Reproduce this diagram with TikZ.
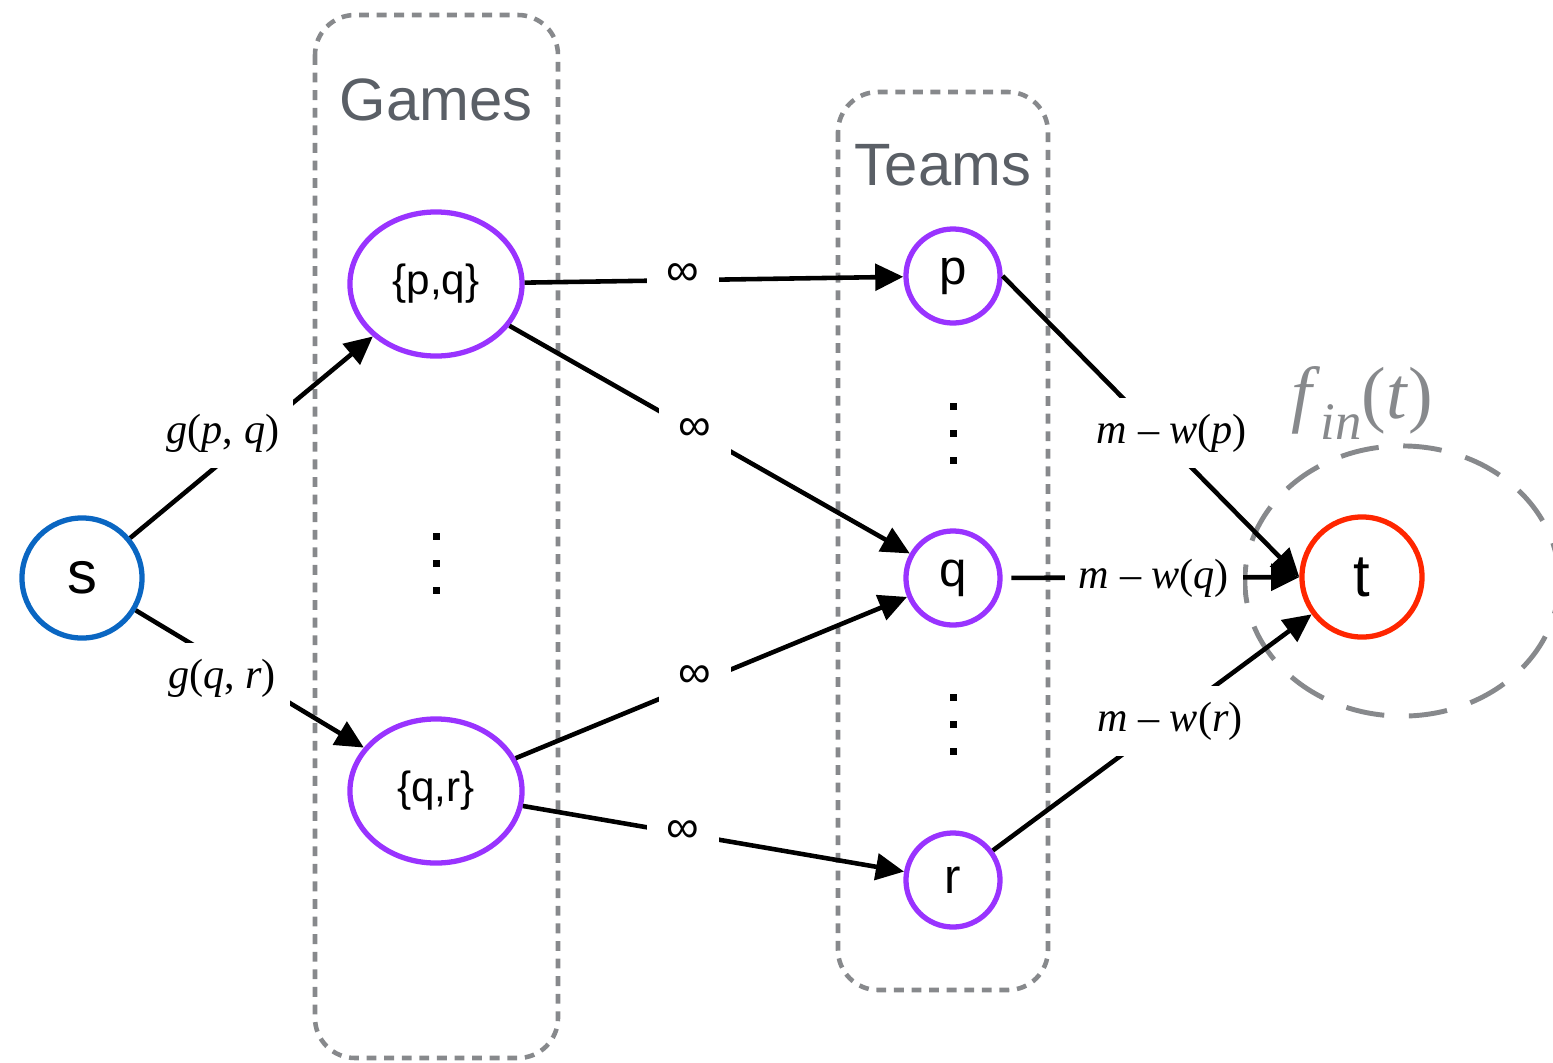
\documentclass[tikz,border=0pt]{standalone}
\usepackage{fontspec}
\setmainfont{Liberation Sans}
\newfontfamily\tms{Liberation Serif}
\usetikzlibrary{shapes.geometric}
\usetikzlibrary{arrows.meta}

\definecolor{sblue}{RGB}{10,102,194}
\definecolor{purp}{RGB}{153,51,255}
\definecolor{tred}{RGB}{255,38,0}
\definecolor{boxgray}{RGB}{135,137,140}
\definecolor{txtgray}{RGB}{90,95,102}

\newcommand{\vi}[1]{\textit{#1}}

\begin{document}
\begin{tikzpicture}[x=0.01cm,y=-0.01cm]
   \tikzset{
     vtx/.style={circle,draw,line width=1.5pt,inner sep=0pt},
     game/.style={ellipse,draw=purp,line width=1.5pt,inner sep=0pt,
       minimum width=1.72cm,minimum height=1.44cm,font=\fontsize{12}{14}\selectfont},
     team/.style={vtx,draw=purp,minimum size=0.94cm,font=\fontsize{14}{16}\selectfont},
     box/.style={draw=boxgray,line width=1.3pt,dash pattern=on 2.8pt off 2.2pt,
       rounded corners=0.4cm},
     boxtitle/.style={text=txtgray,font=\fontsize{17}{20}\selectfont},
     EdgeStyle/.style={line width=1.3pt,-{Triangle[length=8pt,width=7.5pt]}},
     wt/.style={fill=white,inner xsep=4pt,inner ysep=4.5pt,font=\tms\fontsize{12}{14}\selectfont},
     inf/.style={fill=white,inner xsep=5.5pt,inner ysep=4pt,font=\fontsize{13}{15}\selectfont},
   }
   \useasboundingbox (0,0) rectangle (1553,1063);
   % groups
   \draw[box] (315,15) rectangle (558,1058);
   \draw[box] (838,92) rectangle (1048,990);
   \node[boxtitle] (games) at (436,100) {Games};
   \node[boxtitle] (teams) at (943,165) {Teams};
   % vertices
   \node[vtx,draw=sblue,minimum size=1.2cm,font=\fontsize{17}{20}\selectfont] (s) at (82,578) {s};
   \node[game] (pq) at (436,284) {\{p,q\}};
   \node[game] (qr) at (436,791) {\{q,r\}};
   \node[team] (p) at (953,276) {p};
   \node[team] (q) at (953,578) {q};
   \node[team] (r) at (953,880) {r};
   \node[ellipse,draw=boxgray,line width=1.4pt,dash pattern=on 11pt off 7pt,
     minimum width=3.14cm,minimum height=2.7cm] (tcut) at (1402,581) {};
   \node[vtx,draw=tred,minimum size=1.2cm,font=\fontsize{17}{20}\selectfont] (t) at (1362,577) {t};
   \node[text=boxgray,font=\tms\fontsize{21}{24}\selectfont] (fin) at (1362,403)
     {\vi{f}\raisebox{-0.28em}{\fontsize{15}{17}\selectfont\vi{in}}(\vi{t})};
   % dots
   \coordinate (gdots) at (436,563);
   \coordinate (tdots1) at (953,433);
   \coordinate (tdots2) at (953,724);
   \foreach \c in {gdots,tdots1,tdots2}
     \foreach \d in {-27,0,27}
       \fill (\c) ++(-3.5,\d-3.5) rectangle ++(7,7);
   % edges
   \draw[EdgeStyle] (s) -- (pq);
   \draw[EdgeStyle] (s) -- (qr);
   \draw[EdgeStyle] (pq) -- (p);
   \draw[EdgeStyle] (pq) -- (q);
   \draw[EdgeStyle] (qr) -- (q);
   \draw[EdgeStyle] (qr) -- (r);
   \draw[EdgeStyle] (p.east) -- (t.west);
   \draw[EdgeStyle,shorten <=2.5pt] (q) -- (t);
   \draw[EdgeStyle] (r) -- (t);
   % edge labels
   \node[wt] (lpq) at (223,433) {\vi{g}(\vi{p}, \vi{q})};
   \node[wt] (lqr) at (222,678) {\vi{g}(\vi{q}, \vi{r})};
   \node[inf] (i1) at (683,275) {∞};
   \node[inf] (i2) at (695,430) {∞};
   \node[inf] (i3) at (695,677) {∞};
   \node[inf] (i4) at (683,832) {∞};
   \node[wt] (lp) at (1172,433) {\vi{m} – \vi{w}(\vi{p})};
   \node[wt] (lq) at (1154,578) {\vi{m} – \vi{w}(\vi{q})};
   \node[wt] (lr) at (1170,721) {\vi{m} – \vi{w}(\vi{r})};
\end{tikzpicture}
\end{document}
